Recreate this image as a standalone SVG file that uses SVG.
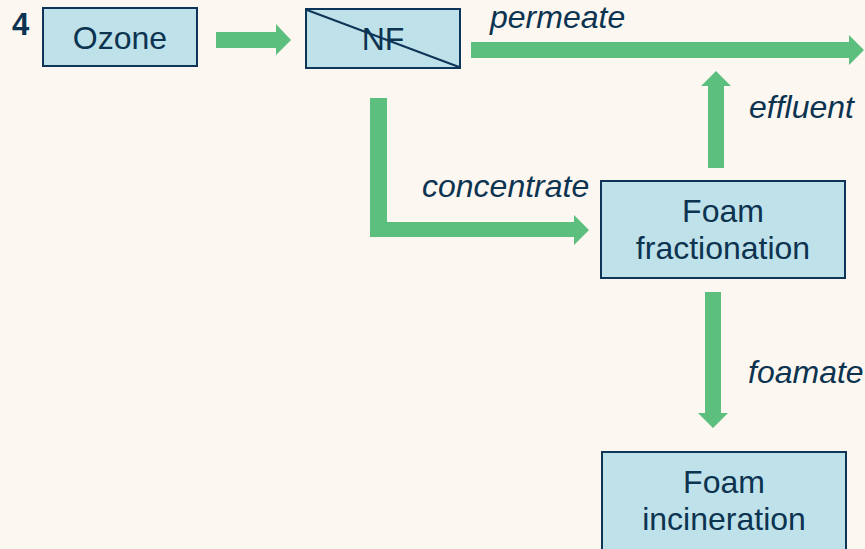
<svg xmlns="http://www.w3.org/2000/svg" width="865" height="549" viewBox="0 0 865 549">
<style>
.box{fill:#bfe1e9;stroke:#0d3558;stroke-width:2}
.t{font-family:"Liberation Sans",Arial,sans-serif;font-size:32px;fill:#0c3350;text-anchor:middle}
.l{font-family:"Liberation Sans",Arial,sans-serif;font-size:32px;font-style:italic;fill:#0c3350}
.a{fill:#5dbf7d}
</style>
<rect width="865" height="549" fill="#fcf7f0"/>
<text x="12" y="35" font-family="Liberation Sans,Arial,sans-serif" font-size="31" font-weight="bold" fill="#0c3350">4</text>
<g id="ozone">
<rect class="box" x="43" y="8" width="154" height="58"/>
<text class="t" x="120" y="49">Ozone</text>
</g>
<g id="nf">
<rect class="box" x="306" y="9" width="154" height="59"/>
<text class="t" x="383" y="50">NF</text>
<line x1="307" y1="10" x2="459" y2="67" stroke="#0d3558" stroke-width="2"/>
</g>
<g id="foam-fractionation">
<rect class="box" x="601" y="181" width="244" height="97"/>
<text class="t" x="723" y="222">Foam</text>
<text class="t" x="723" y="259">fractionation</text>
</g>
<g id="foam-incineration">
<rect class="box" x="602" y="452" width="244" height="100"/>
<text class="t" x="724" y="493">Foam</text>
<text class="t" x="724" y="530">incineration</text>
</g>
<g id="connectors">
<polygon class="a" points="216,32 276,32 276,24 291,40 276,55 276,48 216,48"/>
<polygon class="a" points="471,42 849,42 849,35 864,50 849,65 849,58 471,58"/>
<polygon class="a" points="708,168 708,86 701,86 716,71 731,86 724,86 724,168"/>
<polygon class="a" points="370,98 387,98 387,222 574,222 574,215 589,230 574,245 574,237 370,237"/>
<polygon class="a" points="705,292 721,292 721,413 728,413 713,428 698,413 705,413"/>
<text class="l" x="490" y="28">permeate</text>
<text class="l" x="749" y="118">effluent</text>
<text class="l" x="422" y="197">concentrate</text>
<text class="l" x="748" y="383">foamate</text>
</g>
</svg>
